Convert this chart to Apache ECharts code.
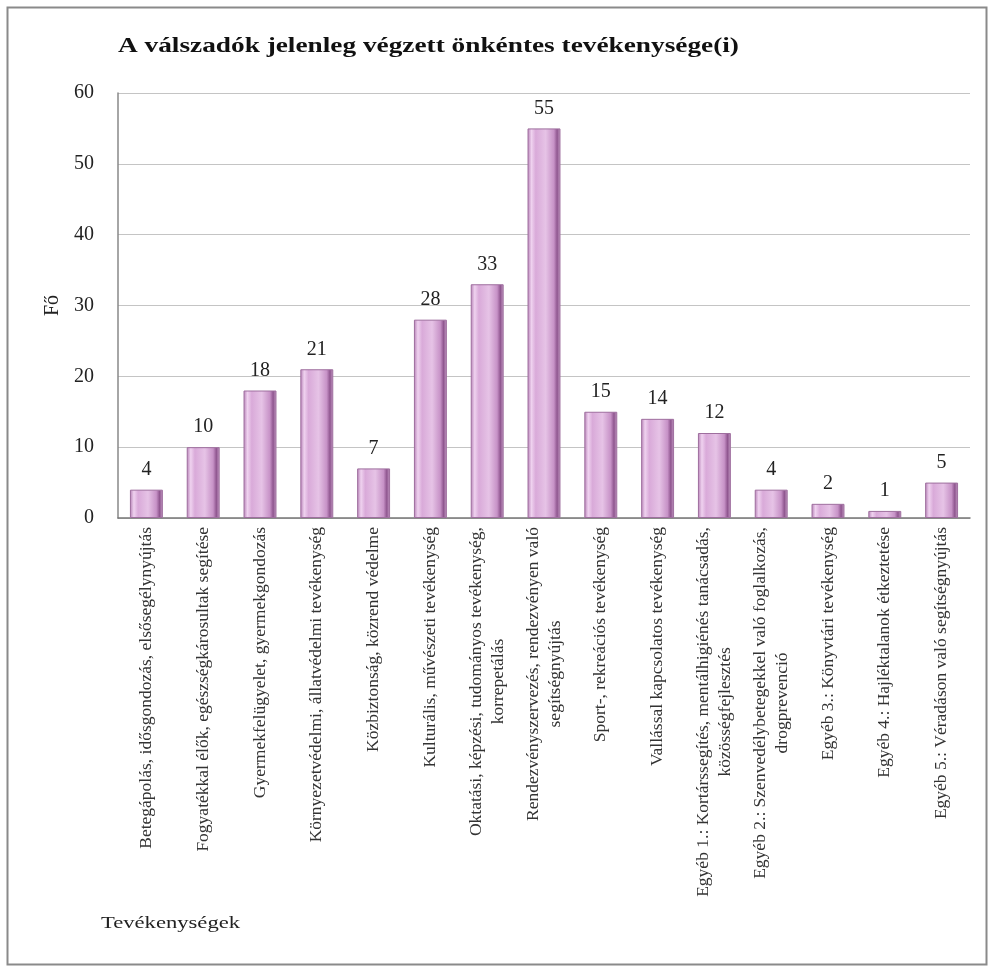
<!DOCTYPE html>
<html>
<head>
<meta charset="utf-8">
<script src="https://cdn.jsdelivr.net/npm/echarts@6/dist/echarts.min.js"></script>
<style>html,body{margin:0;padding:0;background:#fff}#c{width:994px;height:969px}</style>
</head>
<body>
<div id="c"></div>
<script>
const categories = [
  "Betegápolás, idősgondozás, elsősegélynyújtás",
  "Fogyatékkal élők, egészségkárosultak segítése",
  "Gyermekfelügyelet, gyermekgondozás",
  "Környezetvédelmi, állatvédelmi tevékenység",
  "Közbiztonság, közrend védelme",
  "Kulturális, művészeti tevékenység",
  "Oktatási, képzési, tudományos tevékenység,\nkorrepetálás",
  "Rendezvényszervezés, rendezvényen való\nsegítségnyújtás",
  "Sport-, rekreációs tevékenység",
  "Vallással kapcsolatos tevékenység",
  "Egyéb 1.: Kortárssegítés, mentálhigiénés tanácsadás,\nközösségfejlesztés",
  "Egyéb 2.: Szenvedélybetegekkel való foglalkozás,\ndrogprevenció",
  "Egyéb 3.: Könyvtári tevékenység",
  "Egyéb 4.: Hajléktalanok étkeztetése",
  "Egyéb 5.: Véradáson való segítségnyújtás"
];
const values = [4, 10, 18, 21, 7, 28, 33, 55, 15, 14, 12, 4, 2, 1, 5];
const yTicks = { min: 0, max: 60, interval: 10 };
const titleText = "A válszadók jelenleg végzett önkéntes tevékenysége(i)";
const yName = "Fő";
const xName = "Tevékenységek";

const serif = "'Liberation Serif', 'DejaVu Serif', serif";
const chart = echarts.init(document.getElementById('c'));
chart.setOption({
  backgroundColor: '#fff',
  animation: false,
  graphic: [
    { type: 'rect', shape: { x: 7.5, y: 7.5, width: 979, height: 957 },
      style: { fill: 'none', stroke: '#8a8a8a', lineWidth: 2 }, silent: true },
    { type: 'text', x: 118, y: 36, scaleX: 1.3, scaleY: 1,
      style: { text: titleText, font: "bold 21px 'Liberation Serif', serif", fill: '#111' } },
    { type: 'text', x: 101, y: 915, scaleX: 1.33, scaleY: 1,
      style: { text: xName, font: "17px 'Liberation Serif', serif", fill: '#222' } }
  ],
  grid: { left: 118, right: 24, top: 93, bottom: 451, containLabel: false },
  xAxis: {
    type: 'category', data: categories,
    axisLine: { lineStyle: { color: '#777', width: 1.5 } },
    axisTick: { show: false },
    axisLabel: {
      rotate: 90, interval: 0, margin: 9,
      fontFamily: serif, fontSize: 17.5, color: '#333', lineHeight: 22,
      formatter: function (v) {
        return v.split('\n').map(function (s) { return '{c|' + s + '}'; }).join('\n');
      },
      rich: { c: { align: 'center', fontFamily: serif, fontSize: 17.5, color: '#333', lineHeight: 22 } }
    }
  },
  yAxis: {
    type: 'value', min: yTicks.min, max: yTicks.max, interval: yTicks.interval,
    name: yName, nameLocation: 'middle', nameGap: 55, nameRotate: 90,
    nameTextStyle: { fontFamily: serif, fontSize: 20, color: '#222' },
    axisLine: { show: true, lineStyle: { color: '#888', width: 1.5 } },
    axisTick: { show: false },
    axisLabel: { fontFamily: serif, fontSize: 20, color: '#222', margin: 24 },
    splitLine: { lineStyle: { color: '#c4c4c4', width: 1 } }
  },
  series: [{
    type: 'bar', data: values, barWidth: '58%',
    itemStyle: {
      color: new echarts.graphic.LinearGradient(0, 0, 1, 0, [
        { offset: 0, color: '#b57fb5' },
        { offset: 0.12, color: '#efd2ef' },
        { offset: 0.25, color: '#d9aad9' },
        { offset: 0.55, color: '#e6c3e6' },
        { offset: 0.8, color: '#c792c7' },
        { offset: 0.9, color: '#8f568f' },
        { offset: 1, color: '#c9a0c9' }
      ]),
      borderColor: '#9e6e9e', borderWidth: 1
    },
    label: {
      show: true, position: 'top', distance: 10,
      fontFamily: serif, fontSize: 20, color: '#222'
    }
  }]
});
</script>
</body>
</html>
